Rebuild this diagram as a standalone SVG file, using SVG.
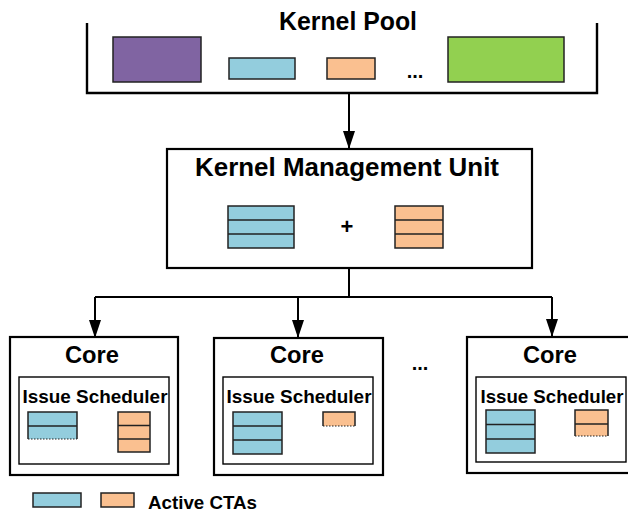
<svg xmlns="http://www.w3.org/2000/svg" width="628" height="513" viewBox="0 0 628 513">
<defs>
<style>
.box{fill:#fff;stroke:#000;stroke-width:2.2}
.inner{fill:#fff;stroke:#000;stroke-width:1.4}
.c{fill:#93CDDD}
.o{fill:#FAC090}
.e{fill:none;stroke:#222;stroke-width:1.5}
.d{fill:none;stroke:#222;stroke-width:1;stroke-dasharray:1.5 1.5}
.t{font-family:"Liberation Sans",Arial,sans-serif;font-weight:bold;fill:#000}
.line{fill:none;stroke:#000;stroke-width:2}
</style>
<marker id="ah" viewBox="0 0 18 12" refX="17" refY="6" markerWidth="18" markerHeight="12" markerUnits="userSpaceOnUse" orient="auto">
<path d="M0,0 L18,6 L0,12 Z" fill="#000"/>
</marker>
</defs>
<rect width="628" height="513" fill="#fff"/>

<g id="kernel-pool">
<path d="M87,23 V93 H597 V23" fill="none" stroke="#000" stroke-width="2.4"/>
<text class="t" x="348" y="30" font-size="25" text-anchor="middle" textLength="138" lengthAdjust="spacingAndGlyphs">Kernel Pool</text>
<rect x="113" y="37" width="88" height="45" fill="#8064A2" stroke="#222" stroke-width="1.5"/>
<rect x="229" y="58" width="66" height="21" class="c" stroke="#222" stroke-width="1.5"/>
<rect x="327" y="58" width="48" height="21" class="o" stroke="#222" stroke-width="1.5"/>
<text class="t" x="415" y="78" font-size="20" text-anchor="middle" font-weight="normal">...</text>
<rect x="448" y="37" width="116" height="45" fill="#92D050" stroke="#222" stroke-width="1.5"/>
</g>

<g id="kmu">
<rect class="box" x="167" y="149" width="365" height="119"/>
<text class="t" x="347" y="176" font-size="26" text-anchor="middle" textLength="304" lengthAdjust="spacingAndGlyphs">Kernel Management Unit</text>
<rect class="c" x="228" y="206" width="66" height="42"/>
<path class="e" d="M228,206 H294 V248 H228 Z M228,220 H294 M228,234 H294"/>
<text class="t" x="347" y="234" font-size="22" text-anchor="middle">+</text>
<rect class="o" x="395" y="206" width="48" height="42"/>
<path class="e" d="M395,206 H443 V248 H395 Z M395,220 H443 M395,234 H443"/>
</g>

<g id="core1">
<rect class="box" x="10" y="337" width="168" height="138"/>
<text class="t" x="92" y="363" font-size="24" text-anchor="middle" textLength="54" lengthAdjust="spacingAndGlyphs">Core</text>
<rect class="inner" x="19" y="377" width="150" height="87"/>
<text class="t" x="95" y="403" font-size="19" text-anchor="middle" textLength="145" lengthAdjust="spacingAndGlyphs">Issue Scheduler</text>
<rect class="c" x="28" y="412" width="49" height="27"/>
<path class="e" d="M28,439 V412 H77 V439 M28,426 H77"/>
<path class="d" d="M28,439 H77"/>
<rect class="o" x="118" y="412" width="32" height="40"/>
<path class="e" d="M118,412 H150 V452 H118 Z M118,425.5 H150 M118,439 H150"/>
</g>

<g id="core2">
<rect class="box" x="214" y="338" width="169" height="137"/>
<text class="t" x="297" y="363" font-size="24" text-anchor="middle" textLength="54" lengthAdjust="spacingAndGlyphs">Core</text>
<rect class="inner" x="223" y="377" width="150" height="87"/>
<text class="t" x="299" y="403" font-size="19" text-anchor="middle" textLength="145" lengthAdjust="spacingAndGlyphs">Issue Scheduler</text>
<rect class="c" x="233" y="412" width="49" height="42"/>
<path class="e" d="M233,412 H282 V454 H233 Z M233,426 H282 M233,440 H282"/>
<rect class="o" x="323" y="412" width="32" height="14"/>
<path class="e" d="M323,426 V412 H355 V426"/>
<path class="d" d="M323,426 H355"/>
</g>

<text class="t" x="420" y="370" font-size="20" text-anchor="middle" font-weight="normal">...</text>

<g id="core3">
<rect class="box" x="467" y="337" width="180" height="136"/>
<text class="t" x="550" y="363" font-size="24" text-anchor="middle" textLength="54" lengthAdjust="spacingAndGlyphs">Core</text>
<rect class="inner" x="476" y="377" width="150" height="85"/>
<text class="t" x="552" y="403" font-size="19" text-anchor="middle" textLength="143" lengthAdjust="spacingAndGlyphs">Issue Scheduler</text>
<rect class="c" x="486" y="410" width="49" height="43"/>
<path class="e" d="M486,410 H535 V453 H486 Z M486,424.5 H535 M486,439 H535"/>
<rect class="o" x="575" y="410" width="33" height="26"/>
<path class="e" d="M575,436 V410 H608 V436 M575,424 H608"/>
<path class="d" d="M575,436 H608"/>
</g>

<g id="connectors">
<line class="line" x1="349" y1="93" x2="349" y2="148" marker-end="url(#ah)"/>
<path class="line" d="M349,268 V297 M95,297 H552"/>
<line class="line" x1="95" y1="297" x2="95" y2="337" marker-end="url(#ah)"/>
<line class="line" x1="298" y1="297" x2="298" y2="337" marker-end="url(#ah)"/>
<line class="line" x1="552" y1="297" x2="552" y2="336" marker-end="url(#ah)"/>
</g>

<g id="legend">
<rect x="33" y="493" width="48" height="14" class="c" stroke="#222" stroke-width="1.5"/>
<rect x="101" y="493" width="33" height="14" class="o" stroke="#222" stroke-width="1.5"/>
<text class="t" x="148" y="509" font-size="18.5" textLength="109" lengthAdjust="spacingAndGlyphs">Active CTAs</text>
</g>
</svg>
